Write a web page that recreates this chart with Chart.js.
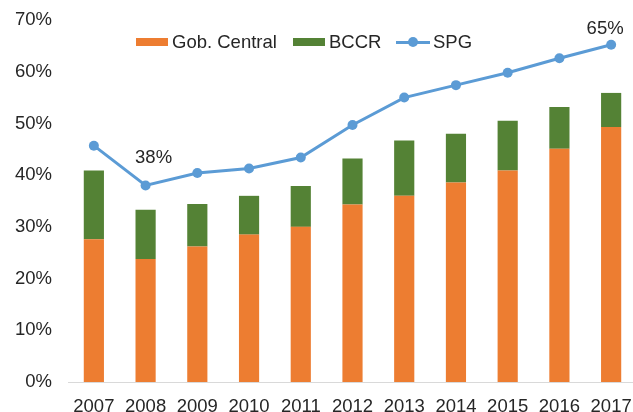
<!DOCTYPE html>
<html>
<head>
<meta charset="utf-8">
<script src="https://cdn.jsdelivr.net/npm/chart.js@4"></script>
<style>
  html, body { margin: 0; padding: 0; background: #fff; overflow: hidden; }
  #wrap { position: relative; width: 633px; height: 412px; overflow: hidden; }
  #grafico { position: absolute; left: 0; top: 0; }
  .txt { position: absolute; font: 18.5px "Liberation Sans", Arial, sans-serif; color: #262626;
         line-height: 22px; white-space: nowrap; }
  .caja { position: absolute; height: 8px; width: 32px; }
  .etq { width: 60px; text-align: center; }
</style>
</head>
<body>
<div id="wrap">
  <canvas id="grafico" width="642" height="412"></canvas>
  <!-- leyenda dentro del área del gráfico, como en Excel -->
  <div class="caja" style="left:136px;top:38px;background:#ED7D31"></div>
  <div class="txt" style="left:172px;top:31px">Gob. Central</div>
  <div class="caja" style="left:293px;top:38px;background:#548235"></div>
  <div class="txt" style="left:329px;top:31px">BCCR</div>
  <div class="caja" style="left:396px;top:40.5px;width:34px;height:3px;background:#5B9BD5"></div>
  <div class="caja" style="left:408px;top:37px;width:10px;height:10px;border-radius:5px;background:#5B9BD5"></div>
  <div class="txt" style="left:433px;top:31px">SPG</div>
</div>
<script>
// años y valores (en % del PIB)
const anios = ['2007', '2008', '2009', '2010', '2011', '2012', '2013', '2014', '2015', '2016', '2017'];
const gobCentral = [27.6, 23.8, 26.2, 28.5, 30.0, 34.3, 36.0, 38.6, 40.9, 45.1, 49.3];
const bccr = [13.3, 9.5, 8.2, 7.5, 7.9, 8.9, 10.7, 9.4, 9.6, 8.1, 6.6];
const spg = [45.7, 38.0, 40.4, 41.3, 43.4, 49.7, 55.0, 57.4, 59.8, 62.6, 65.2];
const ticksY = [0, 10, 20, 30, 40, 50, 60, 70];
// etiquetas que se muestran sobre la línea
const etiquetasSPG = { 1: '38%', 10: '65%' };

const FUENTE = '"Liberation Sans", Arial, sans-serif';
const TAM = 18.5;
const NARANJA = '#ED7D31';
const VERDE = '#548235';
const AZUL = '#5B9BD5';
const TEXTO = '#262626';

const chart = new Chart(document.getElementById('grafico'), {
    type: 'bar',
    data: {
        labels: anios,
        datasets: [
            {
                type: 'line',
                label: 'SPG',
                data: spg,
                borderColor: AZUL,
                backgroundColor: AZUL,
                borderWidth: 3,
                pointRadius: 5,
                pointHoverRadius: 5,
                pointBorderWidth: 0,
                tension: 0,
                fill: false,
                order: 0,
                yAxisID: 'y2'
            },
            {
                label: 'Gob. Central',
                data: gobCentral,
                backgroundColor: NARANJA,
                barPercentage: 0.39,
                categoryPercentage: 1,
                order: 1
            },
            {
                label: 'BCCR',
                data: bccr,
                backgroundColor: VERDE,
                barPercentage: 0.39,
                categoryPercentage: 1,
                order: 1
            }
        ]
    },
    options: {
        responsive: false,
        animation: false,
        layout: { padding: { top: 20, left: 0, right: 0, bottom: 0 } },
        plugins: {
            legend: { display: false },
            tooltip: { enabled: false }
        },
        scales: {
            x: {
                stacked: true,
                grid: { display: false, drawTicks: true, tickLength: 12 },
                border: { display: true, color: '#D9D9D9', width: 1 },
                ticks: {
                    color: TEXTO,
                    font: { size: TAM, family: FUENTE },
                    padding: 2,
                    maxRotation: 0
                },
                afterFit(scale) {
                    scale.height = 30;
                    scale.paddingLeft = 0;
                    scale.paddingRight = 0;
                }
            },
            y: {
                stacked: true,
                min: 0,
                max: 70,
                grid: { display: false, drawTicks: false },
                border: { display: false },
                afterBuildTicks(scale) {
                    scale.ticks = ticksY.map(v => ({ value: v }));
                },
                ticks: {
                    color: TEXTO,
                    font: { size: TAM, family: FUENTE },
                    padding: 16,
                    callback: v => v + '%'
                },
                afterFit(scale) {
                    scale.width = 68;
                    scale.paddingTop = 0;
                    scale.paddingBottom = 0;
                }
            },
            y2: {
                display: false,
                stacked: false,
                min: 0,
                max: 70
            }
        }
    }
});

// etiquetas de datos como texto HTML, ubicadas con las escalas del gráfico
const desplaz = { 1: [8, -28], 10: [-6, -17] };
const wrap = document.getElementById('wrap');
for (const idx in etiquetasSPG) {
    const i = Number(idx);
    const px = chart.scales.x.getPixelForValue(i) + desplaz[idx][0];
    const py = chart.scales.y2.getPixelForValue(spg[i]) + desplaz[idx][1];
    const div = document.createElement('div');
    div.className = 'txt etq';
    div.style.left = (px - 30) + 'px';
    div.style.top = (py - 11) + 'px';
    div.textContent = etiquetasSPG[idx];
    wrap.appendChild(div);
}
</script>
</body>
</html>
